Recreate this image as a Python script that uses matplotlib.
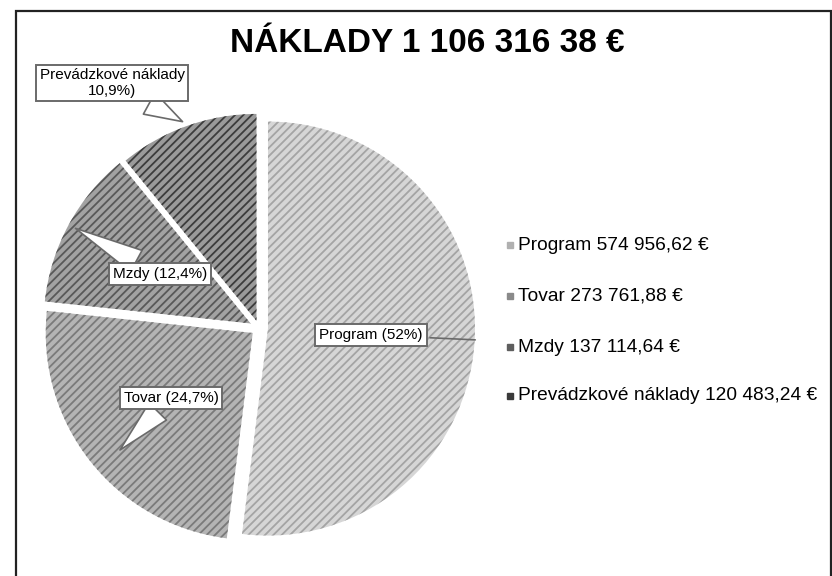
import matplotlib.pyplot as plt
from matplotlib.patches import Rectangle

# data
labels = ["Program", "Tovar", "Mzdy", "Prevádzkové náklady"]
amounts = ["574 956,62 €", "273 761,88 €", "137 114,64 €", "120 483,24 €"]
shares = [52.0, 24.7, 12.4, 10.9]
share_text = ["Program (52%)", "Tovar (24,7%)", "Mzdy (12,4%)", "Prevádzkové náklady\n10,9%)"]
title = "NÁKLADY 1 106 316 38 €"

face_colors = ["#d6d6d6", "#b4b4b4", "#a2a2a2", "#9a9a9a"]
hatch_colors = ["#a4a4a4", "#7a7a7a", "#585858", "#3c3c3c"]
marker_colors = ["#b0b0b0", "#8a8a8a", "#5e5e5e", "#3a3a3a"]
# offsets in pixels (pie radius is given in pixels too)
explode = [9, 8, 9.5, 7.5]

plt.rcParams['font.family'] = ['Liberation Sans', 'DejaVu Sans']
plt.rcParams['hatch.linewidth'] = 1.3

fig = plt.figure(figsize=(8.32, 5.76), dpi=100)
ax = fig.add_axes([0, 0, 1, 1])

wedges, _ = ax.pie(shares, center=(259, 248), radius=207, startangle=90, counterclock=False,
                   explode=explode, colors=face_colors, frame=True)
for w, hc in zip(wedges, hatch_colors):
    w.set_hatch('////')
    w.set_edgecolor(hc)
    w.set_linewidth(0)
ax.set_xlim(0, 832)
ax.set_ylim(0, 576)
ax.axis('off')

# outer frame
ax.add_patch(Rectangle((16, -5), 815, 570, fill=False, edgecolor='#222222', linewidth=1.6))

ax.text(427, 576 - 44, title, ha='center', va='center', fontsize=24, fontweight='bold')

# callouts
box = dict(boxstyle='square,pad=0.25', facecolor='white', edgecolor='#6a6a6a', linewidth=1.4)
arrow = dict(arrowstyle='wedge,tail_width=1.6,shrink_factor=0.5', facecolor='white',
             edgecolor='#6a6a6a', linewidth=1.2)
ax.annotate(share_text[0], xy=(478, 576 - 340), xytext=(371, 576 - 335), ha='center', va='center',
            fontsize=11, bbox=box, arrowprops=dict(arrowstyle='-', color='#6a6a6a', linewidth=1.2))
ax.annotate(share_text[1], xy=(118, 576 - 452), xytext=(171, 576 - 398), ha='center', va='center',
            fontsize=11, bbox=box, arrowprops=arrow)
ax.annotate(share_text[2], xy=(73, 576 - 227), xytext=(160, 576 - 274), ha='center', va='center',
            fontsize=11, bbox=box, arrowprops=arrow)
ax.annotate(share_text[3], xy=(185, 576 - 123), xytext=(112, 576 - 83), ha='center', va='center',
            fontsize=11, bbox=box, arrowprops=arrow, linespacing=1.1)

# legend
legend_y = [245, 296, 347, 396]
for lab, amt, mc, ly in zip(labels, amounts, marker_colors, legend_y):
    ax.plot(510, 576 - ly, marker='s', markersize=5, color=mc, linestyle='none')
    ax.text(518, 576 - ly, lab + " " + amt, ha='left', va='center', fontsize=13.8)

plt.savefig("out.png", dpi=100)
